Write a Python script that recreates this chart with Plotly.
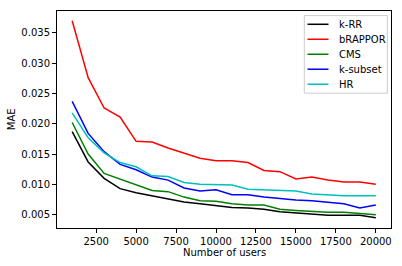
import plotly.graph_objects as go

users = [1000, 2000, 3000, 4000, 5000, 6000, 7000, 8000, 9000, 10000,
         11000, 12000, 13000, 14000, 15000, 16000, 17000, 18000, 19000, 20000]

krr = [0.0187, 0.0137, 0.0110, 0.0093, 0.0086, 0.0081, 0.0076, 0.0071, 0.0068, 0.0065,
       0.0062, 0.0061, 0.0059, 0.0055, 0.0053, 0.0051, 0.0049, 0.0049, 0.0049, 0.0045]
brappor = [0.0370, 0.0276, 0.0226, 0.0211, 0.0171, 0.0170, 0.0160, 0.0152, 0.0143, 0.0139,
           0.0139, 0.0136, 0.0123, 0.0121, 0.0109, 0.0112, 0.0107, 0.0104, 0.0104, 0.0100]
cms = [0.0202, 0.0150, 0.0118, 0.0109, 0.0099, 0.0090, 0.0088, 0.0079, 0.0073, 0.0072,
       0.0068, 0.0066, 0.0066, 0.0059, 0.0057, 0.0055, 0.0054, 0.0054, 0.0052, 0.0050]
ksubset = [0.0237, 0.0184, 0.0154, 0.0133, 0.0124, 0.0112, 0.0107, 0.0094, 0.0089, 0.0091,
           0.0083, 0.0083, 0.0079, 0.0076, 0.0074, 0.0073, 0.0070, 0.0068, 0.0061, 0.0066]
hr = [0.0218, 0.0177, 0.0152, 0.0136, 0.0129, 0.0114, 0.0113, 0.0103, 0.0100, 0.0100,
      0.0099, 0.0092, 0.0091, 0.0089, 0.0089, 0.0084, 0.0082, 0.0081, 0.0081, 0.0081]

series_names = ["k-RR", "bRAPPOR", "CMS", "k-subset", "HR"]
series_values = [krr, brappor, cms, ksubset, hr]
series_colors = ["#000000", "#ff0000", "#008000", "#0000ff", "#00bfbf"]

x_ticks = [2500, 5000, 7500, 10000, 12500, 15000, 17500, 20000]
x_tick_labels = ["2500", "5000", "7500", "10000", "12500", "15000", "17500", "20000"]
y_ticks = [0.005, 0.010, 0.015, 0.020, 0.025, 0.030, 0.035]
y_tick_labels = ["0.005", "0.010", "0.015", "0.020", "0.025", "0.030", "0.035"]

W, H = 402, 266
PL, PR, PT, PB = 57, 391, 10.7, 228  # plot area in window pixels
pw, ph = PR - PL, PB - PT


def fx(px):
    return (px - PL) / pw


def fy(py):
    return (PB - py) / ph


fig = go.Figure()
for name, vals, col in zip(series_names, series_values, series_colors):
    fig.add_trace(go.Scatter(x=users, y=vals, mode="lines", name=name,
                             line=dict(color=col, width=1.5), showlegend=False,
                             hoverinfo="skip"))

font = dict(family="DejaVu Sans", size=10, color="#000000")

shapes = [dict(type="rect", xref="paper", yref="paper",
               x0=fx(304.3), x1=fx(387.3), y0=fy(93), y1=fy(15.3),
               line=dict(color="#cccccc", width=1), fillcolor="rgba(255,255,255,0.8)",
               layer="above")]
annotations = []
for i, (name, col) in enumerate(zip(series_names, series_colors)):
    ly = 24 + i * 15
    shapes.append(dict(type="line", xref="paper", yref="paper",
                       x0=fx(307.5), x1=fx(328.5), y0=fy(ly), y1=fy(ly),
                       line=dict(color=col, width=1.5), layer="above"))
    annotations.append(dict(text=name, xref="paper", yref="paper", x=fx(336.5), y=fy(ly),
                            xanchor="left", yanchor="middle", showarrow=False, font=font))

annotations.append(dict(text="Number of users", xref="paper", yref="paper", x=0.5, y=0,
                        yshift=-(252.5 - PB), xanchor="center", yanchor="middle",
                        showarrow=False, font=font))
annotations.append(dict(text="MAE", xref="paper", yref="paper", x=0, y=0.5,
                        xshift=-(PL - 11.7), xanchor="center", yanchor="middle",
                        textangle=-90, showarrow=False, font=font))

fig.update_layout(
    width=W, height=H,
    margin=dict(l=PL, r=W - PR, t=PT, b=H - PB, autoexpand=False),
    paper_bgcolor="white", plot_bgcolor="white",
    font=font,
    showlegend=False,
    hovermode=False,
    shapes=shapes,
    annotations=annotations,
)
fig.update_xaxes(range=[50, 20950], tickvals=x_ticks, ticktext=x_tick_labels,
                 showgrid=False, zeroline=False, showline=True, linecolor="#000000",
                 linewidth=1, mirror=True, ticks="outside", ticklen=4, tickcolor="#000000",
                 automargin=False)
fig.update_yaxes(range=[0.0028, 0.0386], tickvals=y_ticks, ticktext=y_tick_labels,
                 showgrid=False, zeroline=False, showline=True, linecolor="#000000",
                 linewidth=1, mirror=True, ticks="outside", ticklen=4, tickcolor="#000000",
                 automargin=False)

fig.write_html("out.html",
               config={"displayModeBar": False, "staticPlot": True},
               post_script="document.body.style.margin='0';document.body.style.overflow='hidden';")
